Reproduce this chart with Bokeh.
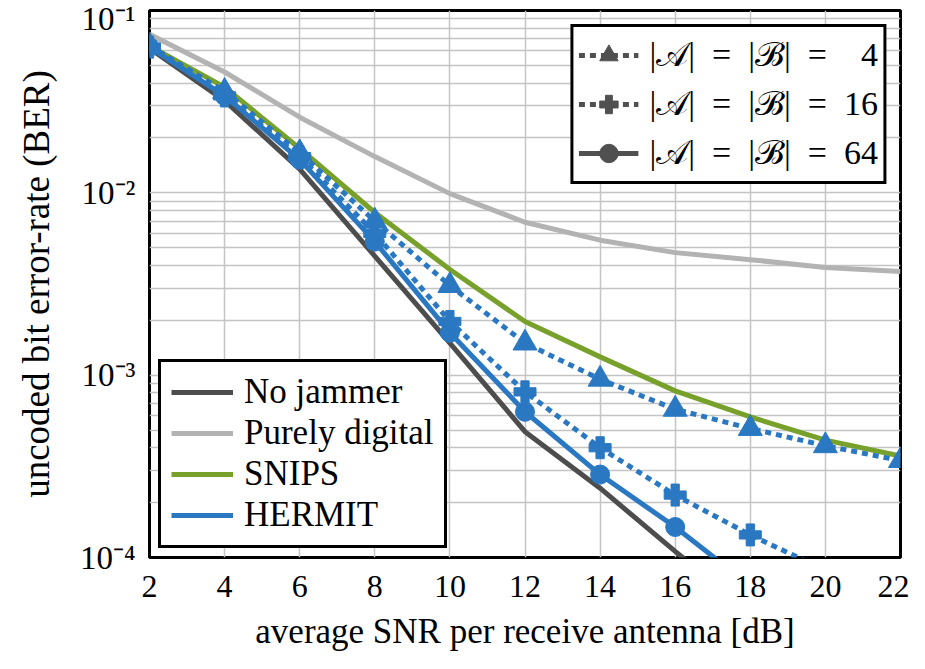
from bokeh.plotting import figure
from bokeh.models import Legend, LegendItem, FixedTicker, Range1d
from bokeh.embed import file_html
from bokeh.resources import INLINE

# ---- data ----
snr = [2, 4, 6, 8, 10, 12, 14, 16, 18, 20, 22]
no_jammer = [0.062, 0.032, 0.0135, 0.0045, 0.0015, 0.00049, 0.00024, 0.000108, 0.00005]
purely_digital = [0.074, 0.046, 0.026, 0.0158, 0.0099, 0.0069, 0.0055, 0.0047, 0.0043, 0.0039, 0.0037]
snips = [0.064, 0.038, 0.0175, 0.0078, 0.0038, 0.00197, 0.00126, 0.00082, 0.00059, 0.00044, 0.00036]
hermit_4 = [0.064, 0.036, 0.0166, 0.0070, 0.0031, 0.0015, 0.00095, 0.00065, 0.00051, 0.00041, 0.00034]
hermit_16 = [0.063, 0.034, 0.0158, 0.0060, 0.00197, 0.00081, 0.00040, 0.00022, 0.000133, 0.000085]
hermit_64 = [0.063, 0.034, 0.0152, 0.0054, 0.00171, 0.00063, 0.000285, 0.000147, 0.00007]

x_ticks = [2, 4, 6, 8, 10, 12, 14, 16, 18, 20, 22]
y_ticks = [1e-4, 1e-3, 1e-2, 1e-1]
y_tick_labels = ["10\u207b\u2074", "10\u207b\u00b3", "10\u207b\u00b2", "10\u207b\u00b9"]

x_title = "average SNR per receive antenna [dB]"
y_title = "uncoded bit error-rate (BER)"
legend_methods = ["No jammer", "Purely digital", "SNIPS", "HERMIT"]
EN = "\u2002"
legend_sizes = ["|\U0001D49C|" + EN + "=" + EN + "|\u212C|" + EN + "=" + EN + "\u20074",
                "|\U0001D49C|" + EN + "=" + EN + "|\u212C|" + EN + "=" + EN + "16",
                "|\U0001D49C|" + EN + "=" + EN + "|\u212C|" + EN + "=" + EN + "64"]

C_DARK = "#4d4d4d"
C_LIGHT = "#b3b3b3"
C_GREEN = "#77a12b"
C_BLUE = "#2a78c2"
C_LEG = "#505050"
FONT = "Liberation Serif"

p = figure(width=909, height=653, y_axis_type="log",
           x_range=Range1d(2, 22), y_range=Range1d(1e-4, 1e-1),
           output_backend="svg", toolbar_location=None,
           min_border_left=149, min_border_right=9, min_border_top=10, min_border_bottom=90)

p.outline_line_color = "black"
p.outline_line_width = 3
p.outline_line_alpha = 1
p.background_fill_color = "white"
p.border_fill_color = "white"

p.xaxis.ticker = FixedTicker(ticks=x_ticks)
minor = [m * 10.0 ** e for e in range(-4, -1) for m in range(2, 10)]
p.yaxis.ticker = FixedTicker(ticks=y_ticks, minor_ticks=minor)
p.yaxis.major_label_overrides = {t: l for t, l in zip(y_ticks, y_tick_labels)}

for ax in (p.xaxis, p.yaxis):
    ax.axis_line_color = None
    ax.major_tick_in = 0
    ax.major_tick_out = 0
    ax.minor_tick_in = 0
    ax.minor_tick_out = 0
    ax.major_label_text_font = FONT
    ax.major_label_text_color = "black"
    ax.axis_label_text_font = FONT
    ax.axis_label_text_font_style = "normal"
    ax.axis_label_text_color = "black"

p.xaxis.major_label_text_font_size = "32px"
p.xaxis.major_label_standoff = 18
p.xaxis.axis_label = x_title
p.xaxis.axis_label_text_font_size = "35px"
p.xaxis.axis_label_standoff = 12

p.yaxis.major_label_text_font_size = "33px"
p.yaxis.major_label_standoff = 14
p.yaxis.axis_label = y_title
p.yaxis.axis_label_text_font_size = "37px"
p.yaxis.axis_label_standoff = 20

p.xgrid.grid_line_color = "#c4c4c4"
p.xgrid.grid_line_width = 1.5
p.ygrid.grid_line_color = "#c4c4c4"
p.ygrid.grid_line_width = 1.5
p.ygrid.minor_grid_line_color = "#c4c4c4"
p.ygrid.minor_grid_line_width = 1.5

LW = 5
DOT = "6 5"
NAN = [float("nan")]

def xs(arr):
    return snr[:len(arr)]

r_nj = p.line(xs(no_jammer), no_jammer, line_color=C_DARK, line_width=LW)
r_pd = p.line(xs(purely_digital), purely_digital, line_color=C_LIGHT, line_width=LW)
r_sn = p.line(xs(snips), snips, line_color=C_GREEN, line_width=LW)

r_he = p.line(xs(hermit_64), hermit_64, line_color=C_BLUE, line_width=LW)
p.scatter(xs(hermit_64), hermit_64, marker="circle", size=19, color=C_BLUE)
p.line(xs(hermit_16), hermit_16, line_color=C_BLUE, line_width=LW, line_dash=DOT)
p.scatter(xs(hermit_16), hermit_16, marker="plus", size=22, color=C_BLUE)
p.line(xs(hermit_4), hermit_4, line_color=C_BLUE, line_width=LW, line_dash=DOT)
p.scatter(xs(hermit_4), hermit_4, marker="triangle", size=24, color=C_BLUE)

# legend proxies (NaN data, not drawn in the plot)
l4 = p.line(NAN, NAN, line_color=C_LEG, line_width=LW, line_dash=DOT)
m4 = p.scatter(NAN, NAN, marker="triangle", size=24, color=C_LEG)
l16 = p.line(NAN, NAN, line_color=C_LEG, line_width=LW, line_dash=DOT)
m16 = p.scatter(NAN, NAN, marker="plus", size=22, color=C_LEG)
l64 = p.line(NAN, NAN, line_color=C_LEG, line_width=LW)
m64 = p.scatter(NAN, NAN, marker="circle", size=19, color=C_LEG)

leg1 = Legend(items=[LegendItem(label=legend_methods[0], renderers=[r_nj]),
                     LegendItem(label=legend_methods[1], renderers=[r_pd]),
                     LegendItem(label=legend_methods[2], renderers=[r_sn]),
                     LegendItem(label=legend_methods[3], renderers=[r_he])],
              location="bottom_left")
leg2 = Legend(items=[LegendItem(label=legend_sizes[0], renderers=[l4, m4]),
                     LegendItem(label=legend_sizes[1], renderers=[l16, m16]),
                     LegendItem(label=legend_sizes[2], renderers=[l64, m64])],
              location="top_right")

for lg in (leg1, leg2):
    lg.border_line_color = "black"
    lg.border_line_width = 3
    lg.border_line_alpha = 1
    lg.background_fill_color = "white"
    lg.background_fill_alpha = 1
    lg.label_text_color = "black"
    lg.label_text_font = FONT
    lg.label_standoff = 11

leg1.label_text_font_size = "35px"
leg1.glyph_width = 62
leg1.glyph_height = 38
leg1.label_height = 38
leg1.spacing = 1
leg1.padding = 10
leg1.margin = 9

leg2.label_text_font_size = "34px"
leg2.glyph_width = 60
leg2.glyph_height = 46
leg2.label_height = 46
leg2.spacing = 3
leg2.padding = 5
leg2.margin = 14

p.add_layout(leg1)
p.add_layout(leg2)

open("out.html", "w").write(file_html(p, INLINE))
